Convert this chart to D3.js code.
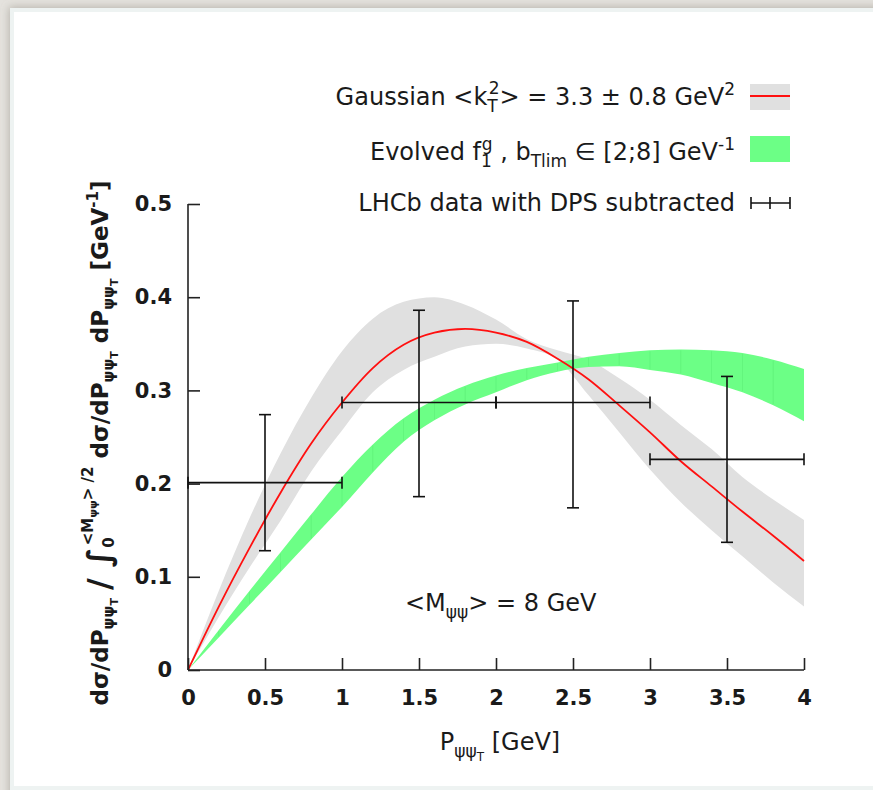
<!DOCTYPE html>
<html>
<head>
<meta charset="utf-8">
<script src="https://cdn.jsdelivr.net/npm/d3@7"></script>
<style>
  html, body { margin: 0; padding: 0; background: #e2e0dc; }
  svg { display: block; }
  text { font-family: "DejaVu Sans", sans-serif; fill: #1a1a1a; }
</style>
</head>
<body>
<svg></svg>
<script>
// data
const xGrid = [0, 0.2, 0.4, 0.6, 0.8, 1.0, 1.2, 1.4, 1.6, 1.8, 2.0, 2.2, 2.4, 2.6, 2.8, 3.0, 3.2, 3.4, 3.6, 3.8, 4.0];

const gaussCentral = [0, 0.068, 0.131, 0.190, 0.243, 0.287, 0.324, 0.349, 0.362, 0.366, 0.362, 0.352, 0.334, 0.312, 0.284, 0.255, 0.224, 0.197, 0.170, 0.144, 0.117];
const gaussUpper   = [0, 0.085, 0.163, 0.232, 0.292, 0.342, 0.377, 0.395, 0.400, 0.392, 0.376, 0.355, 0.343, 0.333, 0.313, 0.290, 0.263, 0.237, 0.207, 0.183, 0.161];
const gaussLower   = [0, 0.057, 0.110, 0.160, 0.213, 0.257, 0.298, 0.322, 0.336, 0.347, 0.350, 0.345, 0.333, 0.295, 0.255, 0.215, 0.180, 0.150, 0.122, 0.094, 0.068];

const evolUpper = [0, 0.043, 0.085, 0.126, 0.167, 0.207, 0.242, 0.270, 0.290, 0.305, 0.316, 0.324, 0.330, 0.336, 0.340, 0.343, 0.344, 0.343, 0.340, 0.333, 0.323];
const evolLower = [0, 0.035, 0.070, 0.105, 0.140, 0.175, 0.212, 0.245, 0.268, 0.285, 0.298, 0.311, 0.320, 0.325, 0.326, 0.322, 0.317, 0.308, 0.298, 0.284, 0.267];

// LHCb points
const lhcbX    = [0.5, 1.5, 2.5, 3.5];
const lhcbXlo  = [0, 1, 2, 3];
const lhcbXhi  = [1, 2, 3, 4];
const lhcbY    = [0.201, 0.287, 0.287, 0.226];
const lhcbYlo  = [0.128, 0.186, 0.174, 0.137];
const lhcbYhi  = [0.274, 0.386, 0.396, 0.315];

const xTicks = [0, 0.5, 1, 1.5, 2, 2.5, 3, 3.5, 4];
const yTicks = [0, 0.1, 0.2, 0.3, 0.4, 0.5];

const W = 873, H = 790;
const svg = d3.select("svg").attr("width", W).attr("height", H);

// page frame
const defs = svg.append("defs");
const f = defs.append("filter").attr("id", "shadow").attr("x", -0.05).attr("y", -0.05).attr("width", 1.1).attr("height", 1.1);
f.append("feGaussianBlur").attr("in", "SourceAlpha").attr("stdDeviation", 4);
f.append("feOffset").attr("dx", -1).attr("dy", -1).attr("result", "b");
f.append("feFlood").attr("flood-color", "#8a857c").attr("flood-opacity", 0.5);
f.append("feComposite").attr("in2", "b").attr("operator", "in");
const fm = f.append("feMerge");
fm.append("feMergeNode");
fm.append("feMergeNode").attr("in", "SourceGraphic");

svg.append("rect").attr("width", W).attr("height", H).attr("fill", "#e4e2dd");
svg.append("rect").attr("x", 10).attr("y", 8).attr("width", 900).attr("height", 800)
  .attr("fill", "#eef3f2").attr("filter", "url(#shadow)");
svg.append("rect").attr("x", 14).attr("y", 12).attr("width", 900).attr("height", 774).attr("fill", "#ffffff");

const x = d3.scaleLinear().domain([0, 4]).range([188, 804]);
const y = d3.scaleLinear().domain([0, 0.5]).range([670, 204]);

const plot = svg.append("g");

// gaussian band
const band = (lo, hi) => d3.area()
  .x((d, i) => x(xGrid[i]))
  .y0((d, i) => y(lo[i]))
  .y1((d, i) => y(hi[i]))
  .curve(d3.curveMonotoneX);

plot.append("path")
  .attr("d", band(gaussLower, gaussUpper)(xGrid))
  .attr("fill", "#e0e0e0");

// evolved band
plot.append("path")
  .attr("d", band(evolLower, evolUpper)(xGrid))
  .attr("fill", "#6cff86");

// faint seams of the filled curve
plot.append("g").selectAll("line")
  .data(xGrid.slice(1, -1))
  .join("line")
  .attr("x1", d => x(d)).attr("x2", d => x(d))
  .attr("y1", (d, i) => y(evolUpper[i + 1]) + 1)
  .attr("y2", (d, i) => y(evolLower[i + 1]) - 1)
  .attr("stroke", "#4fe06a").attr("stroke-width", 0.6).attr("opacity", 0.6);

// gaussian central line
plot.append("path")
  .attr("d", d3.line()
    .x((d, i) => x(xGrid[i]))
    .y((d, i) => y(gaussCentral[i]))
    .curve(d3.curveMonotoneX)(xGrid))
  .attr("fill", "none")
  .attr("stroke", "#ff1010")
  .attr("stroke-width", 1.8);

// axes
const yAxis = d3.axisLeft(y).tickValues(yTicks).tickSize(-12).tickPadding(16)
  .tickFormat(d => d === 0 ? "0" : d.toFixed(1));
const xAxis = d3.axisBottom(x).tickValues(xTicks).tickSize(-12).tickPadding(20)
  .tickFormat(d => String(d));

const gy = svg.append("g").attr("transform", "translate(188,0)").call(yAxis);
const gx = svg.append("g").attr("transform", "translate(0,670)").call(xAxis);
[gx, gy].forEach(g => {
  g.select(".domain").attr("stroke", "#222").attr("stroke-width", 1.6);
  g.selectAll(".tick line").attr("stroke", "#222").attr("stroke-width", 1.6);
  g.selectAll("text").attr("font-family", "DejaVu Sans").attr("font-size", 21)
    .attr("fill", "#1a1a1a").style("font-weight", 600);
});
gx.select(".domain").attr("d", "M188,0H804");
gy.select(".domain").attr("d", "M0,670V204");

// error bars
const eb = svg.append("g").attr("stroke", "#111").attr("stroke-width", 1.6).attr("fill", "none");
const cap = 6;
lhcbX.forEach((px, i) => {
  eb.append("line").attr("x1", x(lhcbXlo[i])).attr("x2", x(lhcbXhi[i]))
    .attr("y1", y(lhcbY[i])).attr("y2", y(lhcbY[i]));
  eb.append("line").attr("x1", x(px)).attr("x2", x(px))
    .attr("y1", y(lhcbYlo[i])).attr("y2", y(lhcbYhi[i]));
  [lhcbXlo[i], lhcbXhi[i]].forEach(v => eb.append("line")
    .attr("x1", x(v)).attr("x2", x(v))
    .attr("y1", y(lhcbY[i]) - cap).attr("y2", y(lhcbY[i]) + cap));
  [lhcbYlo[i], lhcbYhi[i]].forEach(v => eb.append("line")
    .attr("x1", x(px) - cap).attr("x2", x(px) + cap)
    .attr("y1", y(v)).attr("y2", y(v)));
});

// legend
const legX = 735, fs = 24, ss = 17;
const leg = svg.append("g").attr("font-size", fs);

const t1 = leg.append("text").attr("x", legX).attr("y", 105).attr("text-anchor", "end");
t1.append("tspan").text("Gaussian <k");
t1.append("tspan").attr("font-size", ss).attr("dy", 7).text("T");
t1.append("tspan").attr("font-size", ss).attr("dx", -9).attr("dy", -18).text("2");
t1.append("tspan").attr("dy", 11).text("> = 3.3 ± 0.8 GeV");
t1.append("tspan").attr("font-size", ss).attr("dy", -10).text("2");

leg.append("rect").attr("x", 750).attr("y", 84).attr("width", 40).attr("height", 26).attr("fill", "#e0e0e0");
leg.append("line").attr("x1", 750).attr("x2", 790).attr("y1", 96).attr("y2", 96)
  .attr("stroke", "#ff1010").attr("stroke-width", 2);

const t2 = leg.append("text").attr("x", legX).attr("y", 160).attr("text-anchor", "end");
t2.append("tspan").text("Evolved f");
t2.append("tspan").attr("font-size", ss).attr("dy", 7).text("1");
t2.append("tspan").attr("font-size", ss).attr("dx", -10).attr("dy", -17).text("g");
t2.append("tspan").attr("dy", 10).text(" , b");
t2.append("tspan").attr("font-size", ss).attr("dy", 7).text("Tlim");
t2.append("tspan").attr("dy", -7).text(" ∈ [2;8] GeV");
t2.append("tspan").attr("font-size", ss).attr("dy", -10).text("-1");

leg.append("rect").attr("x", 750).attr("y", 136).attr("width", 40).attr("height", 26).attr("fill", "#6cff86");

leg.append("text").attr("x", legX).attr("y", 211).attr("text-anchor", "end")
  .text("LHCb data with DPS subtracted");

const lb = leg.append("g").attr("stroke", "#111").attr("stroke-width", 1.6);
lb.append("line").attr("x1", 751).attr("x2", 790).attr("y1", 203).attr("y2", 203);
[751, 770, 790].forEach(v => lb.append("line").attr("x1", v).attr("x2", v).attr("y1", 197).attr("y2", 209));

// annotation
const an = svg.append("text").attr("x", 405).attr("y", 611).attr("font-size", fs);
an.append("tspan").text("<M");
an.append("tspan").attr("font-size", ss).attr("dy", 7).text("ψψ");
an.append("tspan").attr("dy", -7).text("> = 8 GeV");

// x label
const xl = svg.append("text").attr("x", 500).attr("y", 750).attr("font-size", fs).attr("text-anchor", "middle");
xl.append("tspan").text("P");
xl.append("tspan").attr("font-size", ss).attr("dy", 7).text("ψψ");
xl.append("tspan").attr("font-size", 12).attr("dy", 4).text("T");
xl.append("tspan").attr("dy", -11).text(" [GeV]");

// y label
const yl = svg.append("text")
  .attr("transform", "translate(108,443) rotate(-90)")
  .attr("text-anchor", "middle").attr("font-size", 23).attr("font-weight", "bold");
const sub = (sel, s) => {
  sel.append("tspan").attr("font-size", 15).attr("dy", 6).text("ψψ");
  sel.append("tspan").attr("font-size", 11).attr("dy", 4).text("T");
  sel.append("tspan").attr("dy", -10).text(s);
};
yl.append("tspan").text("dσ/dP");
sub(yl, " ");
yl.append("tspan").attr("font-size", 32).attr("dy", 2).text("/");
yl.append("tspan").attr("font-size", 32).attr("dy", 0).text(" ∫");
yl.append("tspan").attr("font-size", 15).attr("dy", 4).text("0");
yl.append("tspan").attr("font-size", 15).attr("dx", -8).attr("dy", -21).text("<M");
yl.append("tspan").attr("font-size", 11).attr("dy", 4).text("ψψ");
yl.append("tspan").attr("font-size", 15).attr("dy", -4).text("> /2");
yl.append("tspan").attr("dy", 15).text(" dσ/dP");
sub(yl, "  dP");
sub(yl, "     [GeV");
yl.append("tspan").attr("font-size", 15).attr("dy", -10).text("-1");
yl.append("tspan").attr("dy", 10).text("]");
</script>
</body>
</html>
